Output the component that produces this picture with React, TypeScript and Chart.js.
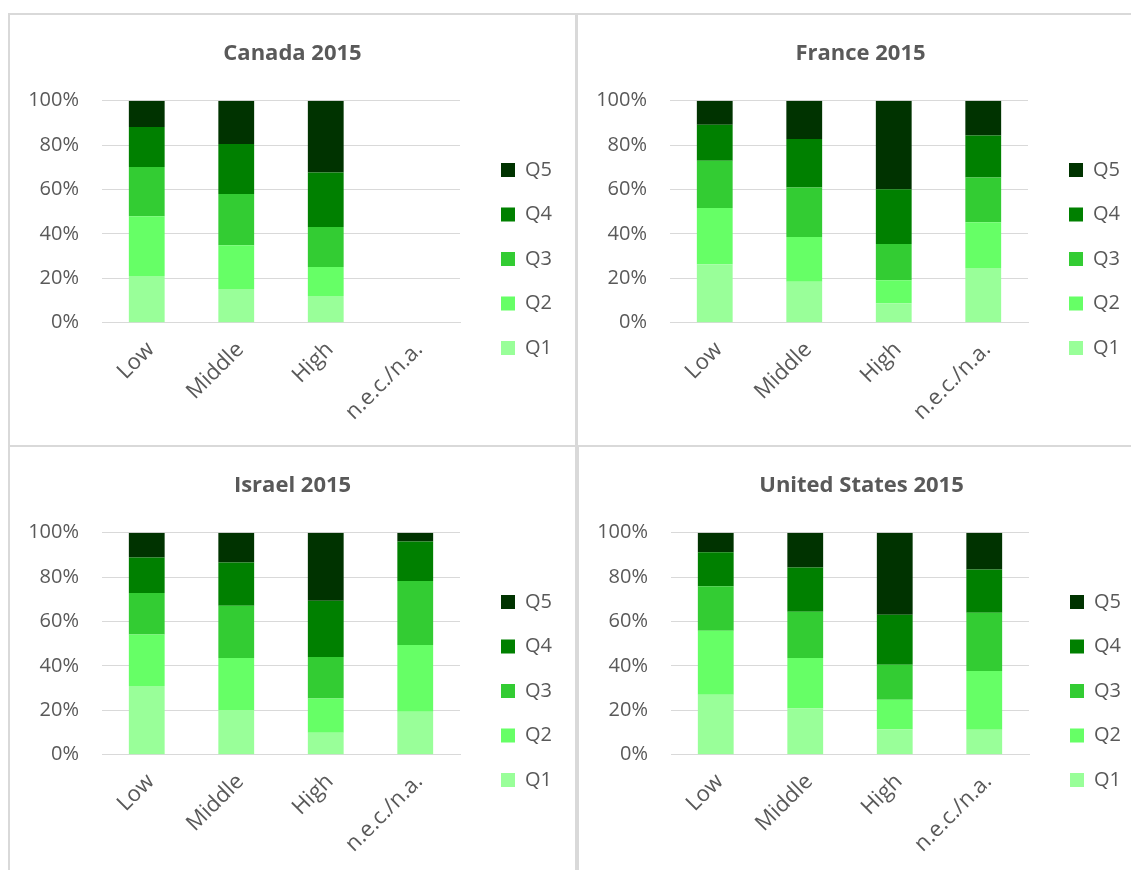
import React, { useEffect, useRef } from 'react';
import { Chart, registerables } from 'chart.js';

Chart.register(...registerables);

// ---------- data ----------
const categories = ['Low', 'Middle', 'High', 'n.e.c./n.a.'];
const quintiles = ['Q1', 'Q2', 'Q3', 'Q4', 'Q5'];
const quintileColors = ['#99FF99', '#66FF66', '#33CC33', '#008000', '#003300'];
const yTickValues = [0, 20, 40, 60, 80, 100];

// rows: Q1..Q5, columns: Low, Middle, High, n.e.c./n.a. (shares in %)
const canada2015 = [
  [21.0, 15.2, 12.0, null],
  [27.0, 19.7, 13.1, null],
  [22.1, 23.1, 18.0, null],
  [18.0, 22.5, 24.6, null],
  [11.9, 19.5, 32.3, null],
];
const france2015 = [
  [26.3, 18.4, 8.8, 24.6],
  [25.4, 20.2, 10.3, 20.7],
  [21.3, 22.3, 16.3, 20.1],
  [16.2, 21.9, 24.7, 18.9],
  [10.8, 17.2, 39.9, 15.7],
];
const israel2015 = [
  [31.0, 20.1, 9.9, 19.3],
  [23.2, 23.5, 15.4, 30.1],
  [18.6, 23.5, 18.7, 28.8],
  [16.0, 19.5, 25.3, 17.8],
  [11.2, 13.4, 30.7, 4.0],
];
const unitedStates2015 = [
  [27.0, 20.8, 11.5, 11.2],
  [28.8, 22.8, 13.3, 26.5],
  [20.1, 20.8, 15.7, 26.2],
  [15.3, 19.9, 22.5, 19.5],
  [8.8, 15.7, 37.0, 16.6],
];

// ---------- layout ----------
const PANEL_W = 567;
const PANEL_H = 432;
const FONT = "'Open Sans', 'DejaVu Sans', sans-serif";
const TEXT = '#595959';
const GRID = '#d9d9d9';

const placeBoxes = {
  id: 'placeBoxes',
  afterLayout(chart: any, _args: any, opts: any) {
    const t = chart.titleBlock;
    if (t) {
      t.left = 0;
      t.right = chart.width;
      t.width = chart.width;
    }
    const l = chart.legend;
    if (!l || !opts) return;
    const p = opts.padding;
    const dx = chart.chartArea.right + opts.gap - p - l.left;
    const dy = opts.firstY - opts.fontSize / 2 - p - l.top;
    l.left += dx;
    l.right += dx;
    l.top += dy;
    l.bottom += dy;
  },
};

function Panel({ title, rows, x, y }: { title: string; rows: (number | null)[][]; x: number; y: number }) {
  const ref = useRef<HTMLCanvasElement>(null);
  useEffect(() => {
    if (!ref.current) return;
    const chart = new Chart(ref.current, {
      type: 'bar',
      data: {
        labels: categories,
        datasets: quintiles.map((q, i) => ({
          label: q,
          data: rows[i],
          backgroundColor: quintileColors[i],
          borderWidth: 0,
          barPercentage: 0.4,
          categoryPercentage: 1.0,
        })),
      },
      options: {
        responsive: false,
        animation: false,
        devicePixelRatio: 1,
        layout: { padding: { left: 0, right: 36, top: 0, bottom: 0 } },
        scales: {
          x: {
            stacked: true,
            grid: { display: false, drawTicks: false },
            border: { display: true, color: GRID, width: 1 },
            ticks: {
              color: TEXT,
              font: { family: FONT, size: 22 },
              maxRotation: 45,
              minRotation: 45,
              autoSkip: false,
              padding: 14,
              labelOffset: 4,
            },
            afterFit: (s: any) => {
              s.height = 123.3;
            },
          },
          y: {
            stacked: true,
            min: 0,
            max: 100,
            grid: { color: GRID, lineWidth: 1, drawTicks: false },
            border: { display: false },
            afterBuildTicks: (s: any) => {
              s.ticks = yTickValues.map((v) => ({ value: v }));
            },
            ticks: {
              color: TEXT,
              font: { family: FONT, size: 20 },
              padding: 23,
              callback: (v: any) => v + '%',
            },
            afterFit: (s: any) => {
              s.width = 93;
            },
          },
        },
        plugins: {
          title: {
            display: true,
            text: title,
            color: TEXT,
            font: { family: FONT, size: 22, weight: 'bold' },
            padding: { top: 26.5, bottom: 33.8 },
          },
          legend: {
            display: true,
            position: 'right',
            align: 'start',
            reverse: true,
            maxWidth: 80,
            labels: {
              color: TEXT,
              font: { family: FONT, size: 20 },
              boxWidth: 14,
              boxHeight: 14,
              padding: 24.5,
            },
          },
          tooltip: { enabled: false },
          placeBoxes: { gap: 41, firstY: 156, padding: 24.5, fontSize: 20 },
        } as any,
      },
      plugins: [placeBoxes],
    } as any);
    return () => chart.destroy();
  }, [title, rows]);

  return (
    <>
      <div
        style={{
          position: 'absolute',
          left: x - 1,
          top: y - 1,
          width: PANEL_W + 2,
          height: PANEL_H + 2,
          border: `2px solid ${GRID}`,
          boxSizing: 'border-box',
        }}
      />
      <canvas
        ref={ref}
        width={PANEL_W}
        height={PANEL_H}
        style={{ position: 'absolute', left: x, top: y, display: 'block' }}
      />
    </>
  );
}

export default function App() {
  return (
    <div
      style={{
        position: 'absolute',
        left: 0,
        top: 0,
        width: 1131,
        height: 870,
        overflow: 'hidden',
        background: '#ffffff',
      }}
    >
      <Panel title="Canada 2015" rows={canada2015} x={9} y={14} />
      <Panel title="France 2015" rows={france2015} x={577} y={14} />
      <Panel title="Israel 2015" rows={israel2015} x={9} y={446} />
      <Panel title="United States 2015" rows={unitedStates2015} x={578} y={446} />
    </div>
  );
}
